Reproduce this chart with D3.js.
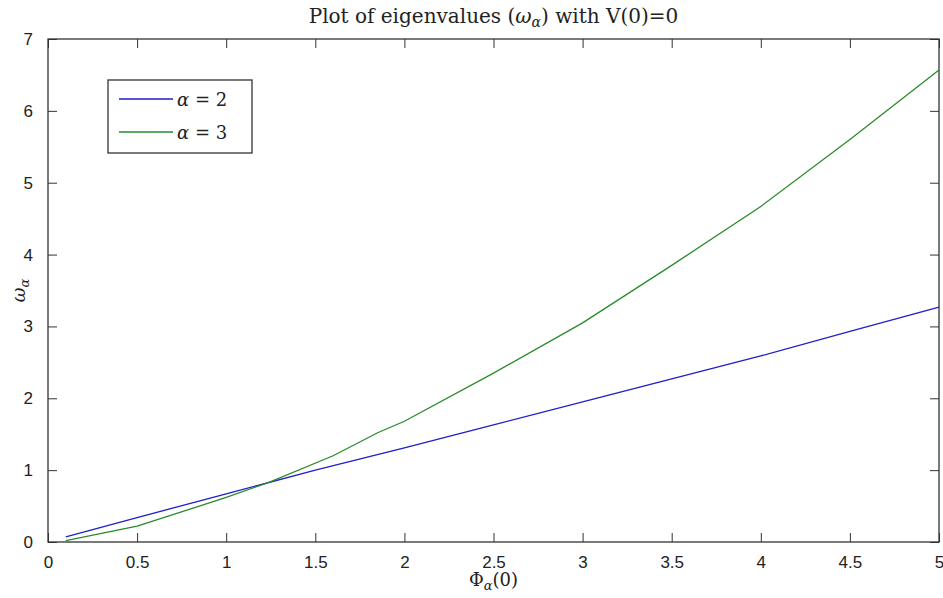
<!DOCTYPE html>
<html>
<head>
<meta charset="utf-8">
<script src="https://cdn.jsdelivr.net/npm/d3@7"></script>
<style>
  body { margin: 0; background: #fff; }
  svg text { fill: #222; }
</style>
</head>
<body>
<div id="chart"></div>
<script>
// phi values and eigenvalues
const phiA2 = [0.1, 0.5, 1, 1.5, 2, 2.5, 3, 3.5, 4, 4.5, 5];
const omegaA2 = [0.07, 0.34, 0.67, 1.0, 1.31, 1.63, 1.95, 2.27, 2.59, 2.93, 3.27];
const phiA3 = [0.1, 0.5, 1, 1.25, 1.6, 1.85, 2, 2.5, 3, 3.5, 4, 4.5, 5];
const omegaA3 = [0.02, 0.22, 0.62, 0.84, 1.2, 1.52, 1.68, 2.35, 3.05, 3.85, 4.67, 5.6, 6.57];
const xTicks = [0, 0.5, 1, 1.5, 2, 2.5, 3, 3.5, 4, 4.5, 5];
const yTicks = [0, 1, 2, 3, 4, 5, 6, 7];
const seriesNames = ['2', '3'];
const seriesColors = ['#1f1fc8', '#2a8a2a'];

const W = 943, H = 598;
const margin = { top: 39, right: 4, bottom: 56, left: 48 };
const width = W - margin.left - margin.right;
const height = H - margin.top - margin.bottom;

const svg = d3.select('#chart').append('svg')
  .attr('width', W).attr('height', H);
const g = svg.append('g').attr('transform', `translate(${margin.left},${margin.top})`);

const x = d3.scaleLinear().domain([0, 5]).range([0, width]);
const y = d3.scaleLinear().domain([0, 7]).range([height, 0]);

const tickFont = '"Liberation Sans Narrow", "Liberation Sans", Arial, sans-serif';
const axisColor = '#333';

// Axes (MATLAB style box with inward ticks)
function styleAxis(sel, showText) {
  sel.select('.domain').remove();
  sel.selectAll('line').attr('stroke', axisColor);
  sel.selectAll('text').style('font-family', tickFont).style('font-size', '17px').attr('fill', '#222');
  if (!showText) sel.selectAll('text').remove();
}
g.append('g').attr('transform', `translate(0,${height})`)
  .call(d3.axisBottom(x).tickValues(xTicks).tickSize(-9).tickPadding(14).tickFormat(d3.format('')))
  .call(s => styleAxis(s, true));
g.append('g')
  .call(d3.axisTop(x).tickValues(xTicks).tickSize(-9).tickFormat(''))
  .call(s => styleAxis(s, false));
g.append('g')
  .call(d3.axisLeft(y).tickValues(yTicks).tickSize(-9).tickPadding(15).tickFormat(d3.format('')))
  .call(s => styleAxis(s, true));
g.append('g').attr('transform', `translate(${width},0)`)
  .call(d3.axisRight(y).tickValues(yTicks).tickSize(-9).tickFormat(''))
  .call(s => styleAxis(s, false));

// Box
g.append('rect').attr('width', width).attr('height', height)
  .attr('fill', 'none').attr('stroke', axisColor).attr('stroke-width', 1.3);

// Lines
const line = d3.line().x(d => x(d[0])).y(d => y(d[1]));
const series = [
  d3.zip(phiA2, omegaA2),
  d3.zip(phiA3, omegaA3)
];
series.forEach((s, i) => {
  g.append('path').datum(s)
    .attr('fill', 'none')
    .attr('stroke', seriesColors[i])
    .attr('stroke-width', 1.3)
    .attr('d', line);
});

// Legend
const legend = g.append('g').attr('transform', 'translate(60,41)');
legend.append('rect').attr('width', 144).attr('height', 73)
  .attr('fill', '#fff').attr('stroke', axisColor).attr('stroke-width', 1.3);
seriesNames.forEach((n, i) => {
  const ly = 19 + i * 33;
  legend.append('line').attr('x1', 11).attr('x2', 65).attr('y1', ly).attr('y2', ly)
    .attr('stroke', seriesColors[i]).attr('stroke-width', 1.3);
  const t = legend.append('text').attr('x', 69).attr('y', ly + 7)
    .style('font-family', '"DejaVu Serif", "Liberation Serif", serif').style('font-size', '18px');
  t.append('tspan').style('font-style', 'italic').text('α');
  t.append('tspan').text(' = ' + n);
});

// Title
const serif = '"DejaVu Serif", "Liberation Serif", serif';
const title = svg.append('text')
  .attr('x', margin.left + width / 2).attr('y', 23)
  .attr('text-anchor', 'middle')
  .style('font-family', serif).style('font-size', '20px');
title.append('tspan').text('Plot of eigenvalues (');
title.append('tspan').style('font-style', 'italic').text('ω');
title.append('tspan').style('font-style', 'italic').style('font-size', '14px').attr('dy', 4).text('α');
title.append('tspan').attr('dy', -4).text(') with V(0)=0');

// X label
const xl = svg.append('text')
  .attr('x', margin.left + width / 2).attr('y', 586)
  .attr('text-anchor', 'middle')
  .style('font-family', serif).style('font-size', '18px');
xl.append('tspan').text('Φ');
xl.append('tspan').style('font-style', 'italic').style('font-size', '13px').attr('dy', 4).text('α');
xl.append('tspan').attr('dy', -4).text('(0)');

// Y label
const yl = svg.append('text')
  .attr('transform', `translate(25,${margin.top + height / 2}) rotate(-90)`)
  .attr('text-anchor', 'middle')
  .style('font-family', serif).style('font-size', '18px');
yl.append('tspan').style('font-style', 'italic').text('ω');
yl.append('tspan').style('font-style', 'italic').style('font-size', '13px').attr('dy', 4).text('α');
</script>
</body>
</html>
